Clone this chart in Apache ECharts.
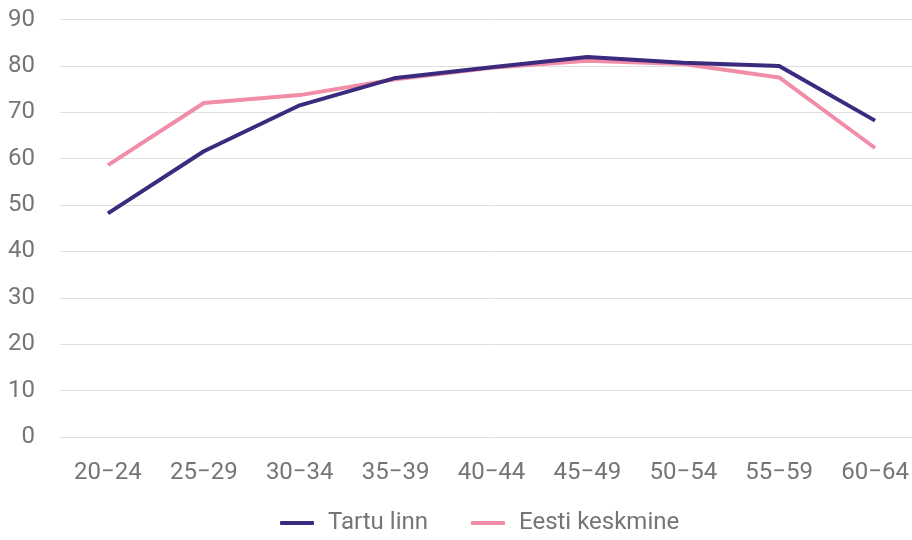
<!DOCTYPE html>
<html>
<head>
<meta charset="utf-8">
<script src="https://cdn.jsdelivr.net/npm/echarts@6/dist/echarts.min.js"></script>
<style>html,body{margin:0;padding:0;background:#fff;overflow:hidden;width:912px;height:540px}#c{width:923px;height:540px}</style>
</head>
<body>
<div id="c"></div>
<script>
const categories = ['20\u221224','25\u221229','30\u221234','35\u221239','40\u221244','45\u221249','50\u221254','55\u221259','60\u221264'];
const tartuLinn = [48.2, 61.6, 71.5, 77.4, 79.7, 81.9, 80.7, 80.0, 68.2];
const eestiKeskmine = [58.6, 72.0, 73.7, 77.1, 79.6, 81.1, 80.4, 77.5, 62.3];
const seriesNames = ['Tartu linn', 'Eesti keskmine'];

const chart = echarts.init(document.getElementById('c'), null, {renderer: 'canvas'});
const font = 'Roboto';
chart.setOption({
  animation: false,
  textStyle: {fontFamily: font},
  grid: {left: 60, top: 19.5, right: 0, bottom: 103, containLabel: false},
  legend: {
    data: seriesNames,
    bottom: 0,
    left: 275,
    itemWidth: 34,
    itemHeight: 4,
    itemGap: 43,
    icon: 'roundRect',
    textStyle: {fontFamily: font, fontSize: 24, color: '#757575', padding: [0, 0, 0, 9]}
  },
  xAxis: {
    type: 'category',
    data: categories,
    boundaryGap: true,
    axisLine: {show: false},
    axisTick: {show: false},
    axisLabel: {fontFamily: font, fontSize: 24, color: '#757575', margin: 24}
  },
  yAxis: {
    type: 'value',
    min: 0, max: 90, interval: 10,
    axisLine: {show: false},
    axisTick: {show: false},
    splitLine: {lineStyle: {color: '#e0e0e0', width: 1}},
    axisLabel: {fontFamily: font, fontSize: 24, color: '#757575', margin: 25}
  },
  series: [
    {name: seriesNames[0], type: 'line', data: tartuLinn, symbol: 'none',
     lineStyle: {color: '#3b2a7e', width: 4}, itemStyle: {color: '#3b2a7e'}, z: 3},
    {name: seriesNames[1], type: 'line', data: eestiKeskmine, symbol: 'none',
     lineStyle: {color: '#f28da8', width: 4}, itemStyle: {color: '#f28da8'}, z: 2}
  ]
});
</script>
</body>
</html>
